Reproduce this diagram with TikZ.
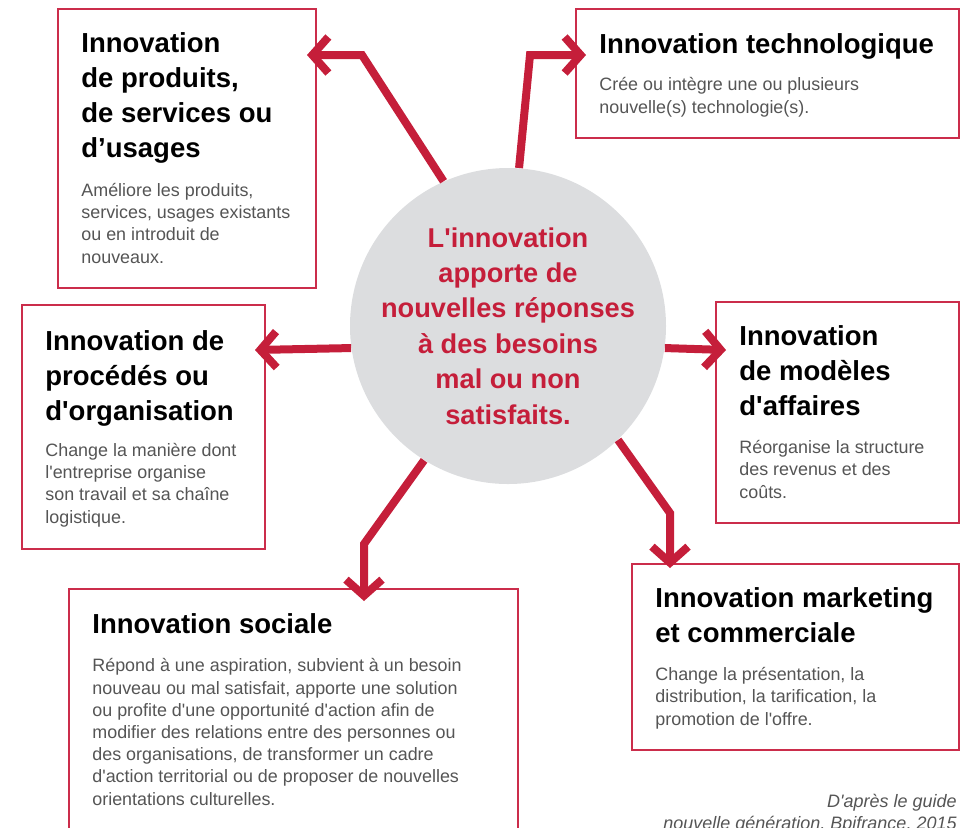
\documentclass[tikz,border=0pt]{standalone}
\usepackage{fontspec}
\setmainfont{Liberation Sans}
\usetikzlibrary{arrows.meta}
\definecolor{innovred}{RGB}{197,30,58}
\definecolor{boxred}{RGB}{203,45,75}
\definecolor{hubgray}{RGB}{220,221,223}
\definecolor{bodygray}{RGB}{85,85,85}
\newcommand{\ap}{\textquotesingle}

\begin{document}
\begin{tikzpicture}[x=0.5pt, y=-0.5pt,
    box/.style={rectangle, draw=boxred, line width=0.9pt, fill=white, anchor=north west, inner sep=0pt},
    heading/.style={anchor=base west, align=left, inner sep=0pt, font=\fontsize{13.75}{17.5}\selectfont\bfseries},
    desc/.style={anchor=base west, align=left, inner sep=0pt, text=bodygray, font=\fontsize{8.95}{11.1}\selectfont},
    link/.style={draw=innovred, line width=4pt, -{Straight Barb[length=8pt, width=18pt]}}
]
\useasboundingbox (0,0) rectangle (964,827);
\clip (0,0) rectangle (964,827);

% Boxes
\node[box, minimum width=129pt, minimum height=139.5pt] (prod) at (57,8) {};
\node[box, minimum width=191.5pt, minimum height=64.5pt] (tech) at (575,8) {};
\node[box, minimum width=121.5pt, minimum height=122pt] (proc) at (21,304) {};
\node[box, minimum width=121.5pt, minimum height=110.5pt] (model) at (715,301) {};
\node[box, minimum width=224.5pt, minimum height=130pt] (soc) at (68,588) {};
\node[box, minimum width=163.5pt, minimum height=93pt] (mark) at (631,563) {};

% Central circle
\node[circle, fill=hubgray, minimum size=158pt, inner sep=0pt] (hub) at (508,326) {};

% Arrow ends
\coordinate (tipProd) at (307,55);
\coordinate (tipTech) at (586,55);
\coordinate (tipProc) at (255,350);
\coordinate (tipModel) at (726,350);
\coordinate (tipSoc) at (364,601);
\coordinate (tipMark) at (670,568);

% Arrows
\draw[link] (hub.114.6) -- (362,55) -- (tipProd);
\draw[link] (hub.86) -- (530,55) -- (tipTech);
\draw[link] (hub.188.6) -- (tipProc);
\draw[link] (hub.-8.7) -- (tipModel);
\draw[link] (hub.238.4) -- (364,544) -- (tipSoc);
\draw[link] (hub.-46.3) -- (670,513) -- (tipMark);

% Centre text (anchored on its last line)
\node[anchor=base, align=center, inner sep=0pt, text=innovred, font=\fontsize{13.6}{17.7}\selectfont\bfseries] (hubtxt) at (508,424)
    {L\ap innovation\\apporte de\\nouvelles réponses\\à des besoins\\mal ou non\\satisfaits.};

% Texts (anchored on their last line)
\node[heading] (prodT) at (81,157) {Innovation\\de produits,\\de services ou\\d’usages};
\node[desc] (prodD) at (81,263) {Améliore les produits,\\services, usages existants\\ou en introduit de\\nouveaux.};

\node[heading] (techT) at (599,53) {Innovation technologique};
\node[desc] (techD) at (599,113) {Crée ou intègre une ou plusieurs\\nouvelle(s) technologie(s).};

\node[heading] (procT) at (45,420) {Innovation de\\procédés ou\\d\ap organisation};
\node[desc] (procD) at (45,523) {Change la manière dont\\l\ap entreprise organise\\son travail et sa chaîne\\logistique.};

\node[heading] (modelT) at (739,415) {Innovation\\de modèles\\d\ap affaires};
\node[desc] (modelD) at (739,498) {Réorganise la structure\\des revenus et des\\coûts.};

\node[heading] (socT) at (92,633) {Innovation sociale};
\node[desc] (socD) at (92,805) {Répond à une aspiration, subvient à un besoin\\nouveau ou mal satisfait, apporte une solution\\ou profite d\ap une opportunité d\ap action afin de\\modifier des relations entre des personnes ou\\des organisations, de transformer un cadre\\d\ap action territorial ou de proposer de nouvelles\\orientations culturelles.};

\node[heading] (markT) at (655,642) {Innovation marketing\\et commerciale};
\node[desc] (markD) at (655,725) {Change la présentation, la\\distribution, la tarification, la\\promotion de l\ap offre.};

% Source
\node[anchor=base east, align=right, inner sep=0pt, text=bodygray, font=\fontsize{9}{11}\selectfont\itshape] (source) at (957,829)
    {D\ap après le guide\\nouvelle génération, Bpifrance, 2015};

\end{tikzpicture}
\end{document}
